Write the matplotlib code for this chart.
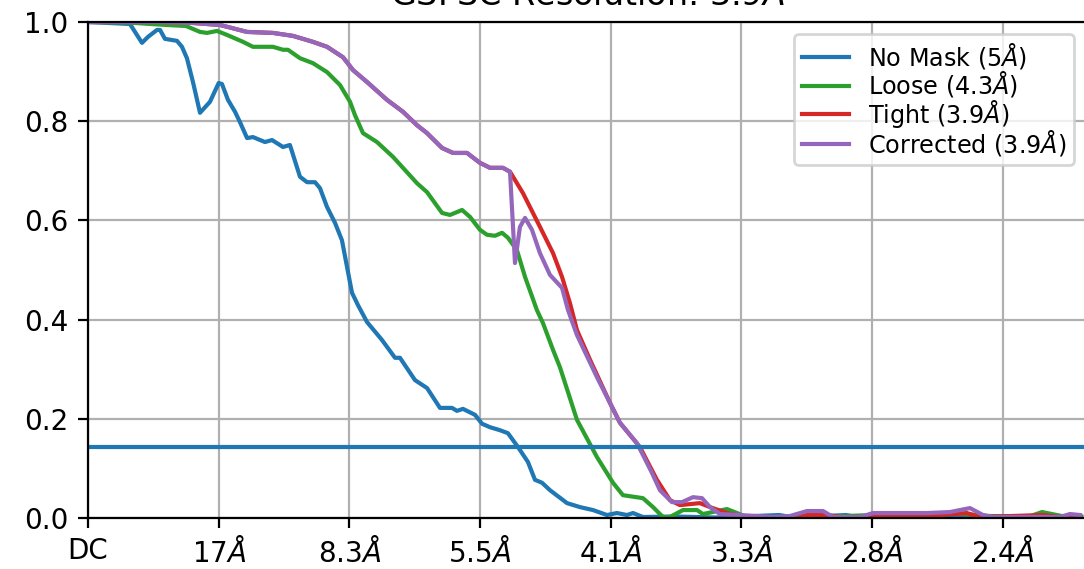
import matplotlib
matplotlib.use('Agg')
import matplotlib.pyplot as plt

# Fourier shell position (tick units) and FSC values
nomask_x = [0, 0.321, 0.413, 0.459, 0.528, 0.551, 0.589, 0.681, 0.719, 0.757, 0.803, 0.857,
            0.933, 1.0, 1.025, 1.071, 1.125, 1.163, 1.217, 1.262, 1.354, 1.408, 1.492, 1.545,
            1.622, 1.676, 1.737, 1.775, 1.829, 1.890, 1.943, 1.982, 2.020, 2.066, 2.135,
            2.249, 2.349, 2.387, 2.502, 2.594, 2.693, 2.785, 2.823, 2.869, 2.961, 3.015,
            3.076, 3.152, 3.213, 3.290, 3.366, 3.420, 3.474, 3.535, 3.665, 3.764, 3.864,
            3.971, 4.047, 4.124, 4.170, 4.246, 4.5, 4.8, 5.0, 5.29, 5.4, 5.80, 5.9, 6.5,
            7.0, 7.6]
nomask_y = [1.0, 0.996, 0.958, 0.970, 0.984, 0.984, 0.966, 0.962, 0.950, 0.927, 0.879, 0.817,
            0.839, 0.877, 0.875, 0.843, 0.819, 0.798, 0.766, 0.768, 0.758, 0.762, 0.748, 0.752,
            0.688, 0.677, 0.677, 0.665, 0.627, 0.595, 0.560, 0.506, 0.454, 0.429, 0.395,
            0.359, 0.323, 0.323, 0.278, 0.262, 0.222, 0.222, 0.216, 0.220, 0.208, 0.190,
            0.183, 0.177, 0.171, 0.143, 0.113, 0.077, 0.071, 0.056, 0.030, 0.022, 0.016,
            0.006, 0.010, 0.006, 0.010, 0.002, 0.003, 0.001, 0.003, 0.006, 0.001, 0.006, 0.001, 0.002,
            0.001, 0.002]

loose_x = [0, 0.3, 0.6, 0.75, 0.857, 0.910, 0.987, 1.063, 1.186, 1.262, 1.415, 1.492, 1.530,
           1.622, 1.721, 1.829, 1.928, 2.005, 2.043, 2.104, 2.211, 2.334, 2.410, 2.517, 2.594,
           2.709, 2.770, 2.862, 2.923, 2.999, 3.053, 3.114, 3.168, 3.213, 3.282, 3.344, 3.435,
           3.481, 3.558, 3.611, 3.741, 3.894, 4.017, 4.093, 4.246, 4.323, 4.399, 4.453, 4.552,
           4.660, 4.705, 4.889, 4.966, 5.04, 5.6, 6.0, 6.3, 6.6, 6.9, 7.2, 7.3, 7.45, 7.6]
loose_y = [1.0, 0.999, 0.994, 0.992, 0.980, 0.978, 0.982, 0.974, 0.960, 0.950, 0.950, 0.944, 0.944,
           0.927, 0.917, 0.899, 0.873, 0.839, 0.812, 0.776, 0.758, 0.728, 0.706, 0.675, 0.657,
           0.615, 0.611, 0.621, 0.607, 0.581, 0.571, 0.569, 0.575, 0.565, 0.540, 0.486, 0.419,
           0.393, 0.339, 0.304, 0.198, 0.123, 0.071, 0.046, 0.040, 0.022, 0.002, 0.002, 0.016,
           0.016, 0.008, 0.018, 0.010, 0.002, 0.002, 0.006, 0.008, 0.010, 0.004, 0.003, 0.012,
           0.004, 0.003]

tight_x = [0, 0.551, 0.803, 1.010, 1.217, 1.415, 1.568, 1.721, 1.829, 1.951, 2.028, 2.135,
           2.288, 2.410, 2.517, 2.594, 2.709, 2.793, 2.900, 2.999, 3.076, 3.175, 3.229, 3.328,
           3.458, 3.558, 3.627, 3.688, 3.741, 3.841, 3.994, 4.070, 4.223, 4.353, 4.453, 4.529,
           4.682, 4.759, 4.889, 5.042, 5.371, 5.501, 5.654, 5.754, 6.006, 6.159, 6.519, 6.725,
           6.825, 7.307, 7.437, 7.590]
tight_y = [1.0, 1.0, 0.998, 0.994, 0.980, 0.978, 0.972, 0.960, 0.950, 0.929, 0.903, 0.879,
           0.843, 0.819, 0.792, 0.776, 0.746, 0.736, 0.736, 0.716, 0.706, 0.706, 0.698, 0.655,
           0.587, 0.534, 0.486, 0.433, 0.379, 0.319, 0.232, 0.192, 0.143, 0.077, 0.036, 0.026,
           0.030, 0.022, 0.010, 0.002, 0.002, 0.006, 0.006, 0.002, 0.002, 0.006, 0.006, 0.010,
           0.002, 0.006, 0.002, 0.002]

corrected_x = [0, 0.551, 0.803, 1.010, 1.217, 1.415, 1.568, 1.721, 1.829, 1.951, 2.028, 2.135,
               2.288, 2.410, 2.517, 2.594, 2.709, 2.793, 2.900, 2.999, 3.076, 3.175, 3.229,
               3.267, 3.305, 3.344, 3.397, 3.458, 3.535, 3.627, 3.673, 3.741, 3.894, 4.009,
               4.070, 4.200, 4.315, 4.376, 4.468, 4.545, 4.629, 4.698, 4.759, 4.835, 4.989,
               5.241, 5.371, 5.501, 5.624, 5.700, 5.907, 6.006, 6.289, 6.419, 6.595, 6.748,
               6.848, 6.924, 7.437, 7.513, 7.590]
corrected_y = [1.0, 1.0, 0.998, 0.994, 0.980, 0.978, 0.972, 0.960, 0.950, 0.929, 0.903, 0.879,
               0.843, 0.819, 0.792, 0.776, 0.746, 0.736, 0.736, 0.716, 0.706, 0.706, 0.698,
               0.514, 0.587, 0.605, 0.581, 0.534, 0.490, 0.464, 0.419, 0.369, 0.284, 0.224,
               0.192, 0.151, 0.091, 0.056, 0.032, 0.032, 0.042, 0.040, 0.022, 0.008, 0.006,
               0.002, 0.004, 0.014, 0.014, 0.002, 0.002, 0.010, 0.010, 0.010, 0.012, 0.020,
               0.006, 0.002, 0.002, 0.008, 0.006]

labels = ['No Mask (5$\\AA$)', 'Loose (4.3$\\AA$)', 'Tight (3.9$\\AA$)', 'Corrected (3.9$\\AA$)']
tick_labels = ['DC', '17$\\AA$', '8.3$\\AA$', '5.5$\\AA$', '4.1$\\AA$', '3.3$\\AA$',
               '2.8$\\AA$', '2.4$\\AA$']
fsc_threshold = 0.143


def main():
    fig = plt.figure(figsize=(5.42, 2.845), dpi=200)
    ax = fig.add_axes([88 / 1084, 51 / 569, 998 / 1084, 496 / 569])

    ax.plot(nomask_x, nomask_y, color='C0', label=labels[0])
    ax.plot(loose_x, loose_y, color='C2', label=labels[1])
    ax.plot(tight_x, tight_y, color='C3', label=labels[2])
    ax.plot(corrected_x, corrected_y, color='C4', label=labels[3])
    ax.axhline(fsc_threshold, color='C0')

    ax.set_xticks(range(len(tick_labels)))
    ax.set_xticklabels(tick_labels)
    ax.set_xlim(0, 7.636)
    ax.set_ylim(0, 1)
    ax.grid(True)
    # title sits partly above the figure edge, as in the source image
    ax.set_title('GSFSC Resolution: 3.9$\\AA$')
    ax.legend(fontsize=8.6, labelspacing=-0.07, borderpad=0.3)

    fig.savefig('out.png', dpi=200)


if __name__ == "__main__":
    main()
